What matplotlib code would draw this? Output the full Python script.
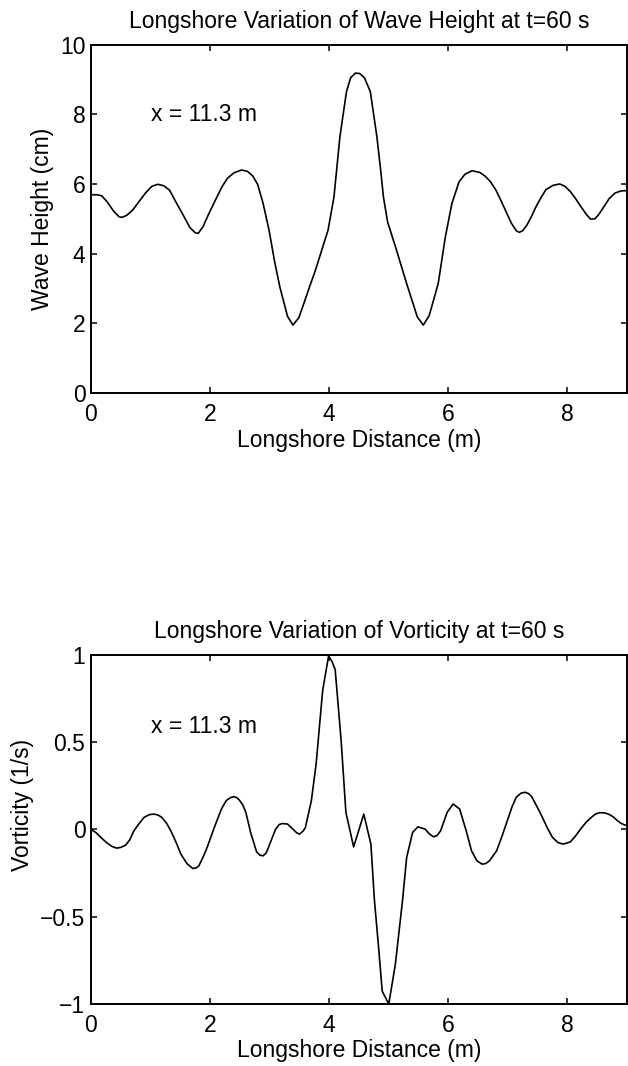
import matplotlib
matplotlib.use('Agg')
import matplotlib.pyplot as plt

# ================================
# Data
# ================================
height_x = [0.0, 0.10, 0.18, 0.27, 0.38, 0.47, 0.52, 0.60, 0.70, 0.80, 0.92,
            1.02, 1.12, 1.22, 1.32, 1.42, 1.55, 1.66, 1.75, 1.80, 1.88, 1.98,
            2.09, 2.20, 2.29, 2.40, 2.53, 2.63, 2.72, 2.80, 2.89, 2.99, 3.08,
            3.17, 3.30, 3.39, 3.49, 3.58, 3.67, 3.76, 3.84, 3.92, 3.98, 4.08,
            4.18, 4.29, 4.36, 4.44, 4.51, 4.59, 4.69, 4.80, 4.87, 4.91, 4.98,
            5.13, 5.30, 5.48, 5.58, 5.68, 5.83, 5.95, 6.06, 6.18, 6.28, 6.40,
            6.53, 6.62, 6.71, 6.80, 6.88, 6.97, 7.06, 7.14, 7.19, 7.25, 7.32,
            7.40, 7.47, 7.56, 7.64, 7.76, 7.87, 7.96, 8.05, 8.14, 8.23, 8.32,
            8.39, 8.46, 8.52, 8.61, 8.70, 8.80, 8.90, 9.0]
height_cm = [5.69, 5.69, 5.66, 5.49, 5.22, 5.06, 5.04, 5.10, 5.25, 5.48, 5.75,
             5.93, 5.99, 5.95, 5.82, 5.50, 5.10, 4.75, 4.60, 4.58, 4.77, 5.15,
             5.54, 5.92, 6.16, 6.32, 6.40, 6.36, 6.22, 5.98, 5.44, 4.67, 3.80,
             3.05, 2.20, 1.95, 2.16, 2.60, 3.05, 3.48, 3.91, 4.35, 4.67, 5.63,
             7.36, 8.65, 9.05, 9.18, 9.17, 9.05, 8.65, 7.36, 6.30, 5.63, 4.91,
             4.10, 3.14, 2.18, 1.95, 2.23, 3.14, 4.48, 5.44, 6.06, 6.28, 6.38,
             6.33, 6.22, 6.06, 5.82, 5.54, 5.20, 4.87, 4.66, 4.61, 4.66, 4.82,
             5.08, 5.34, 5.62, 5.84, 5.96, 6.00, 5.93, 5.78, 5.57, 5.34, 5.12,
             4.99, 5.00, 5.11, 5.34, 5.58, 5.74, 5.80, 5.81]

vort_x = [0.0, 0.08, 0.18, 0.26, 0.35, 0.43, 0.50, 0.58, 0.65, 0.72, 0.80,
          0.89, 0.98, 1.06, 1.13, 1.19, 1.27, 1.34, 1.43, 1.51, 1.61, 1.71,
          1.77, 1.81, 1.88, 1.95, 2.07, 2.19, 2.27, 2.34, 2.40, 2.45, 2.49,
          2.55, 2.60, 2.68, 2.78, 2.84, 2.89, 2.94, 2.98, 3.04, 3.10, 3.16,
          3.21, 3.30, 3.39, 3.45, 3.50, 3.56, 3.60, 3.70, 3.78, 3.89, 3.99,
          4.05, 4.10, 4.20, 4.28, 4.41, 4.58, 4.70, 4.76, 4.82, 4.89, 5.00,
          5.11, 5.23, 5.30, 5.40, 5.49, 5.61, 5.68, 5.75, 5.81, 5.87, 5.98,
          6.08, 6.19, 6.30, 6.39, 6.48, 6.57, 6.63, 6.69, 6.81, 6.90, 6.99,
          7.07, 7.14, 7.22, 7.29, 7.35, 7.40, 7.49, 7.58, 7.66, 7.75, 7.84,
          7.93, 8.05, 8.13, 8.22, 8.31, 8.40, 8.47, 8.54, 8.62, 8.69, 8.77,
          8.84, 8.91, 9.0]
vort_s = [0.0, -0.017, -0.050, -0.075, -0.097, -0.107, -0.103, -0.090,
          -0.060, -0.008, 0.030, 0.069, 0.085, 0.088, 0.082, 0.069, 0.035,
          -0.008, -0.075, -0.142, -0.195, -0.224, -0.220, -0.209, -0.160,
          -0.103, 0.011, 0.117, 0.165, 0.182, 0.188, 0.182, 0.169, 0.140,
          0.098, -0.017, -0.128, -0.148, -0.151, -0.135, -0.103, -0.050, 0.002,
          0.028, 0.034, 0.031, 0.002, -0.018, -0.027, -0.010, 0.011, 0.165,
          0.375, 0.797, 0.995, 0.960, 0.916, 0.51, 0.098, -0.10, 0.088,
          -0.084, -0.41, -0.64, -0.927, -1.0, -0.774, -0.41, -0.161, -0.017,
          0.015, 0.002, -0.025, -0.042, -0.035, -0.008, 0.098, 0.146, 0.117,
          -0.008, -0.123, -0.180, -0.199, -0.195, -0.18, -0.123, -0.040, 0.05,
          0.130, 0.184, 0.208, 0.213, 0.205, 0.188, 0.130, 0.069, 0.010,
          -0.046, -0.075, -0.084, -0.071, -0.040, 0.002, 0.040, 0.069, 0.088,
          0.096, 0.095, 0.088, 0.072, 0.05, 0.033, 0.021]

x_ticks = [0, 2, 4, 6, 8]
height_ticks = [0, 2, 4, 6, 8, 10]
vort_ticks = [-1, -0.5, 0, 0.5, 1]
vort_labels = ['\u22121', '\u22120.5', '0', '0.5', '1']

plt.rcParams['font.family'] = ['Liberation Sans', 'DejaVu Sans']
FS = 16.5


def style_axes(ax):
    for s in ax.spines.values():
        s.set_linewidth(1.4)
    ax.tick_params(direction='in', length=4.5, width=1.1, top=True, right=True,
                   labelsize=FS)
    ax.tick_params(axis='x', pad=7)
    ax.tick_params(axis='y', pad=4)
    ax.set_xlim(0, 9)
    ax.set_xticks(x_ticks)
    ax.set_xlabel("Longshore Distance (m)", fontsize=FS, labelpad=2)


fig = plt.figure(figsize=(6.28, 10.66), dpi=100)

# ================================
# Wave height
# ================================
ax1 = fig.add_axes([0.1449, 0.6313, 0.8535, 0.3269])
ax1.plot(height_x, height_cm, color='black', lw=1.2)
ax1.set_ylim(0, 10)
ax1.set_yticks(height_ticks)
style_axes(ax1)
ax1.set_ylabel("Wave Height (cm)", fontsize=FS)
ax1.yaxis.label.set_verticalalignment('center')
ax1.yaxis.set_label_coords(-0.0914, 0.5)
ax1.set_title("Longshore Variation of Wave Height at t=60 s", fontsize=FS, pad=12)
ax1.text(1.0, 8.0, "x = 11.3 m", fontsize=FS, va='center', ha='left')

# ================================
# Vorticity
# ================================
ax2 = fig.add_axes([0.1449, 0.0582, 0.8535, 0.3274])
ax2.plot(vort_x, vort_s, color='black', lw=1.2)
ax2.set_ylim(-1, 1)
ax2.set_yticks(vort_ticks)
ax2.set_yticklabels(vort_labels)
style_axes(ax2)
ax2.set_ylabel("Vorticity (1/s)", fontsize=FS)
ax2.yaxis.label.set_verticalalignment('center')
ax2.yaxis.set_label_coords(-0.1287, 0.57)
ax2.set_title("Longshore Variation of Vorticity at t=60 s", fontsize=FS, pad=12)
ax2.text(1.0, 0.59, "x = 11.3 m", fontsize=FS, va='center', ha='left')

fig.savefig("out.png", dpi=100)
